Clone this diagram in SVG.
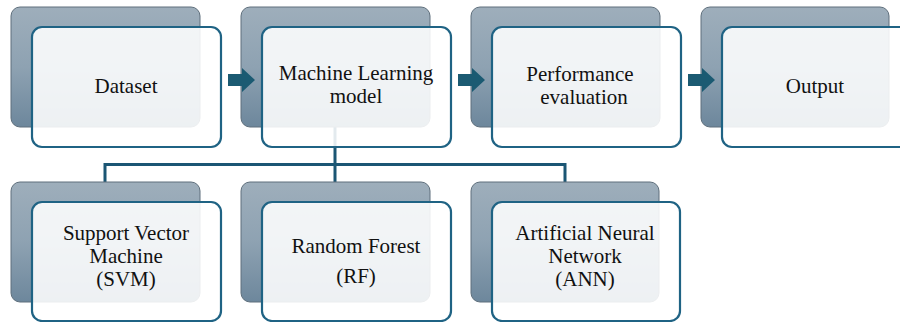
<svg xmlns="http://www.w3.org/2000/svg" width="900" height="322" viewBox="0 0 900 322">
  <defs>
    <linearGradient id="backFill" x1="0" y1="0" x2="0" y2="1">
      <stop offset="0" stop-color="#9eaebb"/>
      <stop offset="0.5" stop-color="#8ea2b2"/>
      <stop offset="1" stop-color="#6d879c"/>
    </linearGradient>
    <style>
      .back { fill: url(#backFill); stroke: #5f6f7c; stroke-width: 1; }
      .front { fill: #ffffff; fill-opacity: 0.88; stroke: #1f6384; stroke-width: 2.2; }
      .label { font-family: "Liberation Serif", "Times New Roman", serif; font-size: 21px; fill: #111; text-anchor: middle; }
      .link { fill: none; stroke: #1b5674; stroke-width: 3; }
      .arrow { fill: #1b5a72; }
    </style>
  </defs>

  <rect width="900" height="322" fill="#ffffff"/>

  <!-- connectors from the model box to the three algorithms -->
  <g id="connectors">
    <path class="link" d="M335 127 V182 M105 182 V164.5 H565 V182"/>
  </g>

  <!-- top row -->
  <g id="dataset">
    <rect class="back" x="11" y="7" width="189" height="120" rx="9"/>
    <rect class="front" x="32" y="27" width="189" height="120" rx="10"/>
    <text class="label" x="126" y="93">Dataset</text>
  </g>
  <g id="ml-model">
    <rect class="back" x="241" y="7" width="189" height="120" rx="9"/>
    <rect class="front" x="262" y="27" width="189" height="120" rx="10"/>
    <text class="label" x="356" y="80">Machine Learning</text>
    <text class="label" x="356" y="103">model</text>
  </g>
  <g id="performance">
    <rect class="back" x="471" y="7" width="189" height="120" rx="9"/>
    <rect class="front" x="492" y="27" width="189" height="120" rx="10"/>
    <text class="label" x="580" y="81">Performance</text>
    <text class="label" x="584" y="104">evaluation</text>
  </g>
  <g id="output">
    <rect class="back" x="701" y="7" width="188" height="120" rx="9"/>
    <rect class="front" x="722" y="27" width="189" height="120" rx="10"/>
    <text class="label" x="815" y="93">Output</text>
  </g>

  <!-- flow arrows -->
  <g id="arrows">
    <polygon class="arrow" points="228,74 242,74 242,68 255,80 242,92 242,86 228,86"/>
    <polygon class="arrow" points="458,74 472,74 472,68 485,80 472,92 472,86 458,86"/>
    <polygon class="arrow" points="688,74 702,74 702,68 715,80 702,92 702,86 688,86"/>
  </g>

  <!-- bottom row -->
  <g id="svm">
    <rect class="back" x="11" y="182" width="189" height="120" rx="9"/>
    <rect class="front" x="32" y="202" width="189" height="119" rx="10"/>
    <text class="label" x="126" y="240">Support Vector</text>
    <text class="label" x="126" y="263">Machine</text>
    <text class="label" x="126" y="286">(SVM)</text>
  </g>
  <g id="rf">
    <rect class="back" x="241" y="182" width="189" height="120" rx="9"/>
    <rect class="front" x="262" y="202" width="189" height="119" rx="10"/>
    <text class="label" x="356" y="253">Random Forest</text>
    <text class="label" x="356" y="283">(RF)</text>
  </g>
  <g id="ann">
    <rect class="back" x="471" y="182" width="188" height="120" rx="9"/>
    <rect class="front" x="492" y="202" width="188" height="119" rx="10"/>
    <text class="label" x="585" y="240">Artificial Neural</text>
    <text class="label" x="585" y="263">Network</text>
    <text class="label" x="585" y="286">(ANN)</text>
  </g>
</svg>
